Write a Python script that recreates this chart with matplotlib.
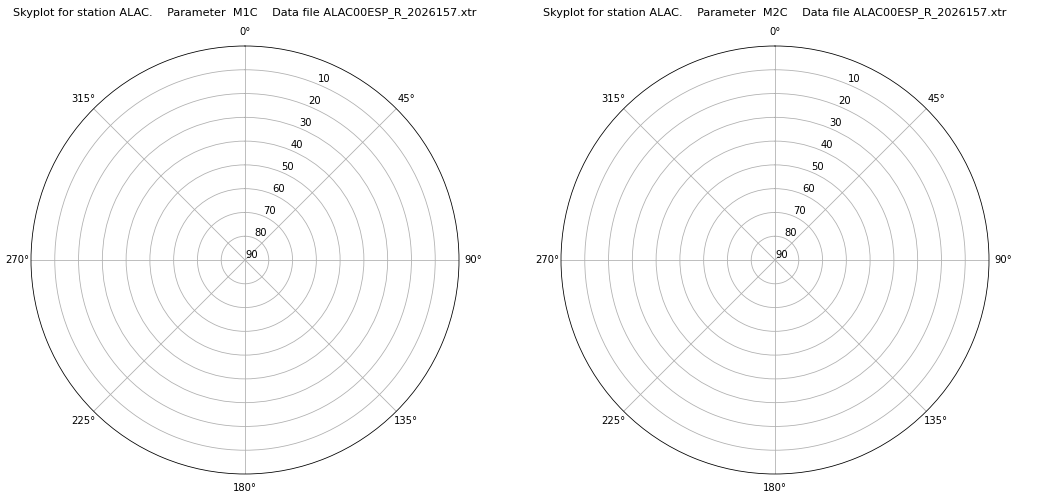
import numpy as np
import matplotlib
matplotlib.use('Agg')
import matplotlib.pyplot as plt

# 스카이플롯 설정값
station = 'ALAC'
data_file = 'ALAC00ESP_R_2026157.xtr'
parameters = ['M1C', 'M2C']
elevation_ticks = [10, 20, 30, 40, 50, 60, 70, 80, 90]
azimuth_ticks = [0, 45, 90, 135, 180, 225, 270, 315]

fig = plt.figure(figsize=(1042 / 72, 500 / 72), dpi=72)

positions = [[31 / 1042, 26 / 500, 428 / 1042, 428 / 500],
             [561 / 1042, 26 / 500, 428 / 1042, 428 / 500]]

for param, pos in zip(parameters, positions):
    ax = fig.add_axes(pos, projection='polar')
    ax.set_theta_zero_location('N')
    ax.set_theta_direction(-1)
    ax.set_ylim(90, 0)
    ax.set_yticks(elevation_ticks)
    ax.set_yticklabels([str(e) for e in elevation_ticks])
    ax.set_xticks(np.radians(azimuth_ticks))
    ax.set_xticklabels([f'{a}°' for a in azimuth_ticks])
    ax.grid(True, color='#b0b0b0', linewidth=0.8)
    ax.set_title(f'Skyplot for station {station}.    Parameter  {param}    Data file {data_file}',
                 fontsize=11.25, pad=12)

fig.savefig('out.png', dpi=72)
